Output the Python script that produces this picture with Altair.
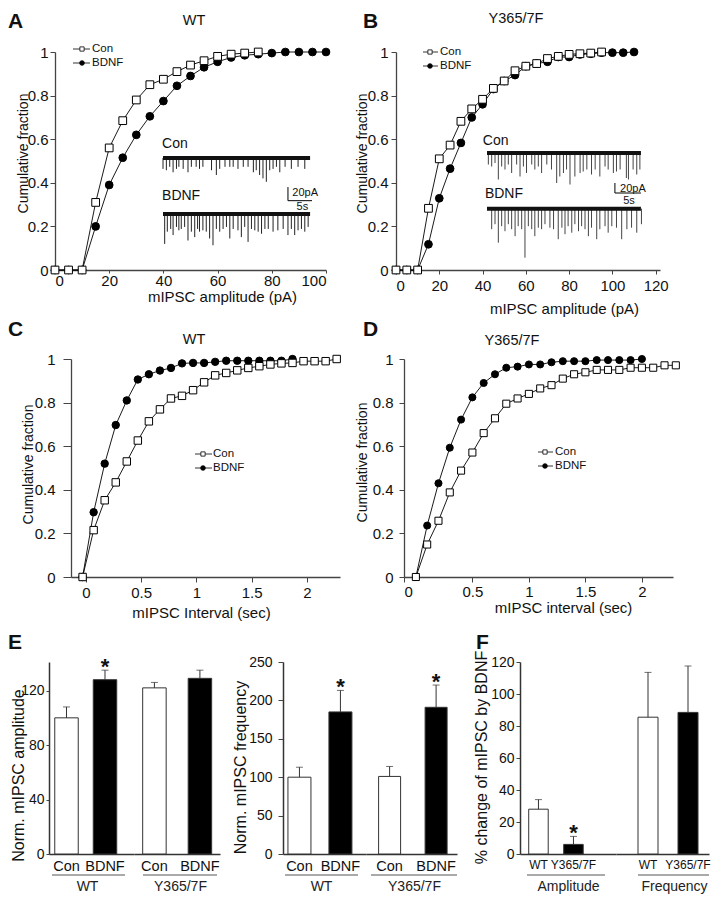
import altair as alt
import pandas as pd

FONT = "Liberation Sans"

# ---------------- cumulative data ----------------
A_CON_X = [0, 5, 10, 15, 20, 25, 30, 35, 40, 45, 50, 55, 60, 65, 70, 75]
A_CON_Y = [0, 0, 0, 0.31, 0.56, 0.685, 0.78, 0.85, 0.875, 0.91, 0.94, 0.96, 0.98, 0.99, 0.995, 1.0]
A_BDNF_X = [0, 5, 10, 15, 20, 25, 30, 35, 40, 45, 50, 55, 60, 65, 70, 75, 80, 85, 90, 95, 100]
A_BDNF_Y = [0, 0, 0, 0.2, 0.39, 0.515, 0.62, 0.705, 0.775, 0.845, 0.89, 0.93, 0.955, 0.975, 0.985, 0.99, 0.995, 1, 1, 1, 1]

B_CON_X = [0, 5, 10, 15, 20, 25, 30, 35, 40, 45, 50, 55, 60, 65, 70, 75, 80, 85, 90, 95]
B_CON_Y = [0, 0, 0, 0.283, 0.51, 0.573, 0.682, 0.739, 0.783, 0.833, 0.867, 0.914, 0.935, 0.947, 0.97, 0.98, 0.989, 0.992, 0.995, 1.0]
B_BDNF_X = [0, 5, 10, 15, 20, 25, 30, 35, 40, 45, 50, 55, 60, 65, 70, 75, 80, 85, 90, 95, 100, 105, 110]
B_BDNF_Y = [0, 0, 0, 0.118, 0.329, 0.465, 0.583, 0.70, 0.76, 0.83, 0.867, 0.894, 0.935, 0.947, 0.955, 0.977, 0.977, 0.989, 0.992, 0.997, 0.997, 0.997, 1.0]

C_CON_X = [-0.03, 0.07, 0.17, 0.27, 0.37, 0.47, 0.57, 0.67, 0.77, 0.87, 0.97, 1.07, 1.17, 1.27, 1.37, 1.47, 1.57, 1.67, 1.77, 1.87, 1.97, 2.07, 2.17, 2.27]
C_CON_Y = [0, 0.215, 0.352, 0.434, 0.53, 0.626, 0.714, 0.769, 0.819, 0.831, 0.857, 0.893, 0.925, 0.936, 0.948, 0.959, 0.967, 0.975, 0.98, 0.982, 0.99, 0.99, 0.99, 1.0]
C_BDNF_X = [-0.03, 0.07, 0.17, 0.27, 0.37, 0.47, 0.57, 0.67, 0.77, 0.87, 0.97, 1.07, 1.17, 1.27, 1.37, 1.47, 1.57, 1.67, 1.77, 1.87]
C_BDNF_Y = [0, 0.297, 0.52, 0.697, 0.81, 0.906, 0.93, 0.947, 0.959, 0.98, 0.982, 0.982, 0.987, 0.992, 0.992, 0.992, 0.992, 0.992, 0.992, 1.0]

D_CON_X = [0, 0.1, 0.2, 0.3, 0.4, 0.5, 0.6, 0.7, 0.8, 0.9, 1.0, 1.1, 1.2, 1.3, 1.4, 1.5, 1.6, 1.7, 1.8, 1.9, 2.0, 2.1, 2.2, 2.3]
D_CON_Y = [0, 0.149, 0.258, 0.388, 0.488, 0.571, 0.66, 0.728, 0.795, 0.819, 0.84, 0.865, 0.88, 0.91, 0.93, 0.939, 0.95, 0.95, 0.95, 0.96, 0.96, 0.96, 0.971, 0.971]
D_BDNF_X = [0, 0.1, 0.2, 0.3, 0.4, 0.5, 0.6, 0.7, 0.8, 0.9, 1.0, 1.1, 1.2, 1.3, 1.4, 1.5, 1.6, 1.7, 1.8, 1.9, 2.0]
D_BDNF_Y = [0, 0.236, 0.43, 0.593, 0.722, 0.824, 0.89, 0.93, 0.96, 0.965, 0.975, 0.975, 0.985, 0.99, 0.99, 0.99, 0.995, 0.995, 0.995, 0.995, 1.0]

# ---------------- example traces (event time s, event amplitude pA) ----------------
A_TR_CON_T = [0.0, 0.7, 1.4, 2.1, 2.8, 3.3, 4.2, 5.2, 5.9, 6.9, 7.6, 8.3, 10.1, 11.1, 11.8, 12.9, 13.9, 14.6, 15.6, 16.7,
              17.7, 18.8, 19.4, 20.1, 20.8, 21.5, 22.2, 22.9, 23.6, 24.3, 25.4, 26.7, 28.1, 29.5]
A_TR_CON_A = [16, 18, 13, 21, 16, 13, 16, 21, 13, 13, 16, 13, 18, 25, 16, 13, 13, 13, 16, 13,
              13, 21, 18, 25, 30, 35, 18, 16, 13, 21, 13, 16, 13, 16]
A_TR_BDNF_T = [0.35, 0.9, 1.6, 2.1, 2.8, 3.3, 3.8, 4.5, 5.2, 5.9, 6.6, 7.2, 7.6, 8.3, 9.0, 9.7, 10.4, 11.1, 11.8, 12.5,
               13.2, 13.9, 14.6, 15.6, 16.3, 17.0, 17.7, 18.4, 19.1, 19.8, 20.5, 21.2, 21.9, 22.9, 23.9, 25.0, 26.0, 26.7,
               27.4, 28.1, 28.8, 29.5, 30.2]
A_TR_BDNF_A = [44, 26, 22, 31, 19, 24, 22, 19, 39, 26, 34, 22, 26, 24, 26, 36, 46, 22, 26, 22,
               19, 36, 22, 24, 34, 19, 41, 22, 24, 26, 29, 22, 22, 26, 24, 22, 31, 22, 31, 24, 22, 26, 19]
B_TR_CON_T = [0.26, 0.9, 1.54, 2.18, 2.82, 3.46, 4.1, 4.74, 5.7, 6.35, 7.0, 7.6, 8.6, 9.2, 9.87, 10.5, 11.5, 12.4, 13.4, 14.0,
              14.7, 15.3, 15.96, 16.9, 17.9, 18.5, 19.2, 20.1, 20.8, 21.7, 22.7, 23.3, 24.3, 24.9, 25.6, 26.8, 27.2, 28.1, 28.8, 29.4]
B_TR_CON_A = [23, 27, 20, 53, 27, 33, 23, 40, 23, 47, 27, 40, 23, 33, 27, 40, 23, 33, 60, 47,
              40, 33, 63, 47, 40, 37, 33, 43, 33, 47, 27, 33, 40, 37, 33, 50, 53, 33, 43, 33]
B_TR_BDNF_T = [0.9, 1.54, 2.18, 2.82, 3.46, 4.1, 4.74, 5.4, 6.0, 6.67, 7.3, 7.95, 8.6, 9.2, 9.87, 10.5, 11.15, 12.1, 12.8, 13.7,
               14.4, 15.0, 15.6, 16.3, 16.9, 17.6, 18.2, 18.85, 19.5, 20.1, 21.1, 21.7, 22.7, 23.3, 24.0, 24.9, 25.9, 26.9,
               27.8, 28.8, 29.7]
B_TR_BDNF_A = [41, 31, 68, 35, 45, 31, 41, 55, 35, 41, 98, 35, 41, 55, 38, 41, 31, 38, 41, 61,
               38, 51, 35, 48, 31, 45, 35, 41, 55, 38, 61, 41, 35, 48, 35, 38, 61, 41, 38, 48, 31]

# ---------------- bar data (per group: Con/BDNF or WT/Y365/7F) ----------------
E_CONDS = ["Con", "BDNF"]
E_AMP_WT_MEAN, E_AMP_WT_ERR, E_AMP_WT_SIG = [100, 128], [8, 7], [False, True]
E_AMP_Y_MEAN, E_AMP_Y_ERR, E_AMP_Y_SIG = [122, 129], [4, 6], [False, False]
E_FREQ_WT_MEAN, E_FREQ_WT_ERR, E_FREQ_WT_SIG = [100, 185], [13, 28], [False, True]
E_FREQ_Y_MEAN, E_FREQ_Y_ERR, E_FREQ_Y_SIG = [101, 191], [13, 29], [False, True]
F_GENO = ["WT", "Y365/7F"]
F_AMP_MEAN, F_AMP_ERR, F_AMP_SIG = [28, 6], [6, 5], [False, True]
F_FREQ_MEAN, F_FREQ_ERR, F_FREQ_SIG = [85.5, 88.5], [28, 29], [False, False]

SERIES = ["Con", "BDNF"]
SHAPE_SCALE = alt.Scale(domain=SERIES, range=["square", "circle"])
FILL_SCALE = alt.Scale(domain=SERIES, range=["white", "black"])


def text_at(txt, x, y, **kw):
    return alt.Chart(pd.DataFrame({"txt": [txt]})).mark_text(**kw).encode(
        x=alt.value(x), y=alt.value(y), text="txt:N")


def letter_at(txt, x, y):
    return text_at(txt, x, y, align="left", baseline="top", fontSize=21, fontWeight="bold")


def extent(top, bottom):
    # invisible guide fixing the vertical extent of a panel for the layout
    return alt.Chart(pd.DataFrame({"v": [0]})).mark_rule(strokeOpacity=0, strokeWidth=1).encode(
        x=alt.value(0), y=alt.value(top), y2=alt.value(bottom))


def legend_rows(lx0, lx1, mx, tx, ys):
    out = []
    for s, yy in zip(SERIES, ys):
        d = pd.DataFrame({"series": [s]})
        out.append(alt.Chart(d).mark_rule(color="black", strokeWidth=0.8).encode(
            x=alt.value(lx0), x2=alt.value(lx1), y=alt.value(yy)))
        out.append(alt.Chart(d).mark_point(filled=True, stroke="black", strokeWidth=0.8, opacity=1,
                                           size=18 if s == "Con" else 22).encode(
            x=alt.value(mx), y=alt.value(yy),
            shape=alt.Shape("series:N", scale=SHAPE_SCALE, legend=None),
            fill=alt.Fill("series:N", scale=FILL_SCALE, legend=None)))
        out.append(alt.Chart(d).mark_text(align="left", baseline="middle", fontSize=11.5).encode(
            x=alt.value(tx), y=alt.value(yy), text="series:N"))
    return out


def trace(t, amp, tdom, xr, adom, yr, color, label, lab_t, lab_a, bar=None):
    def xs():
        return alt.Scale(domain=tdom, range=xr, nice=False, zero=False)

    def ys():
        return alt.Scale(domain=adom, range=yr, nice=False, zero=False)

    ev = pd.DataFrame({"t": t, "amp": [-a for a in amp], "zero": [0] * len(t)})
    spikes = alt.Chart(ev).mark_rule(color=color, strokeWidth=1).encode(
        x=alt.X("t:Q", scale=xs(), axis=None), y=alt.Y("amp:Q", scale=ys(), axis=None), y2="zero:Q")
    base = alt.Chart(pd.DataFrame({"t0": [0], "t1": [tdom[1] - 0.4], "a": [0]})).mark_rule(
        color="#111", strokeWidth=4).encode(
        x=alt.X("t0:Q", scale=xs(), axis=None), x2="t1:Q", y=alt.Y("a:Q", scale=ys(), axis=None))
    lab = alt.Chart(pd.DataFrame({"t": [lab_t], "a": [lab_a], "txt": [label]})).mark_text(
        align="left", baseline="middle", fontSize=14).encode(
        x=alt.X("t:Q", scale=xs(), axis=None), y=alt.Y("a:Q", scale=ys(), axis=None), text="txt:N")
    layers = [spikes, base, lab]
    if bar is not None:
        tb, a0, lt, la, st, sa = bar
        sb = pd.DataFrame({"t0": [tb, tb], "t1": [tb, tb + 5], "a0": [a0, a0], "a1": [a0 + 20, a0]})
        layers.append(alt.Chart(sb).mark_rule(color="black", strokeWidth=1).encode(
            x=alt.X("t0:Q", scale=xs(), axis=None), x2="t1:Q",
            y=alt.Y("a0:Q", scale=ys(), axis=None), y2="a1:Q"))
        layers.append(alt.Chart(pd.DataFrame({"t": [lt], "a": [la], "txt": ["20pA"]})).mark_text(
            align="left", baseline="middle", fontSize=11).encode(
            x=alt.X("t:Q", scale=xs(), axis=None), y=alt.Y("a:Q", scale=ys(), axis=None), text="txt:N"))
        layers.append(alt.Chart(pd.DataFrame({"t": [st], "a": [sa], "txt": ["5s"]})).mark_text(
            align="center", baseline="middle", fontSize=11).encode(
            x=alt.X("t:Q", scale=xs(), axis=None), y=alt.Y("a:Q", scale=ys(), axis=None), text="txt:N"))
    return layers


def cum_panel(p):
    df = pd.DataFrame({
        "x": p["bx"] + p["cx"], "y": p["by"] + p["cy"],
        "series": ["BDNF"] * len(p["bx"]) + ["Con"] * len(p["cx"])})
    xs = alt.Scale(domain=p["xdom"], nice=False, zero=False)
    ys = alt.Scale(domain=[0, 1], nice=False, zero=False)
    xkw = dict(values=p["xticks"], format=p["xfmt"], title=p["xtitle"], titleX=p["xtpos"][0],
               titleY=p["xtpos"][1], titleBaseline="middle", tickSize=p["xtick"][0],
               labelPadding=p["xtick"][1], labelFontSize=15, titleFontSize=15)
    if "xexpr" in p:
        xkw["labelExpr"] = p["xexpr"]
    xaxis = alt.Axis(**xkw)
    yaxis = alt.Axis(values=[0, 0.2, 0.4, 0.6, 0.8, 1], format=".1~f", title="Cumulative fraction",
                     titleX=p["ytpos"][0], titleY=p["ytpos"][1], titleBaseline="middle",
                     tickSize=p["ytick"][0], labelPadding=p["ytick"][1], labelFontSize=15, titleFontSize=14)
    lines = alt.Chart(df).mark_line(color="black", strokeWidth=0.9).encode(
        x=alt.X("x:Q", scale=xs, axis=xaxis), y=alt.Y("y:Q", scale=ys, axis=yaxis), detail="series:N")
    pts = alt.Chart(df).mark_point(filled=True, stroke="black", strokeWidth=1, opacity=1, size=p["msize"]).encode(
        x=alt.X("x:Q", scale=xs, axis=None), y=alt.Y("y:Q", scale=ys, axis=None),
        shape=alt.Shape("series:N", scale=SHAPE_SCALE, legend=None),
        fill=alt.Fill("series:N", scale=FILL_SCALE, legend=None))
    layers = [lines, pts] + p.get("traces", []) + legend_rows(*p["legend"])
    layers.append(letter_at(p["letter"], p["letter_pos"][0], p["letter_pos"][1]))
    layers.append(text_at(p["title"], p["title_pos"][0], p["title_pos"][1], align="center",
                          baseline="middle", fontSize=14.5))
    layers.append(extent(-p["ext"][0], p["h"] + p["ext"][1]))
    return alt.layer(*layers).resolve_scale(x="independent", y="independent").properties(
        width=p["w"], height=p["h"])


def bar_sub(p):
    c = p["conds"]
    df = pd.DataFrame({"cond": c, "mean": p["mean"], "err": p["err"], "sig": p["sig"]})
    base = alt.Chart(df).transform_calculate(top="datum.mean + datum.err")
    xs = alt.Scale(domain=c, paddingInner=p["pad"][0], paddingOuter=p["pad"][1], align=p["pad"][2])
    xaxis = alt.Axis(title=p["group"], titleX=p["gx"], titleY=32, titleBaseline="middle", titleFontSize=14,
                     titleColor="#222", labelAngle=0, ticks=False, tickSize=0, labelPadding=5,
                     labelFontSize=p["lfs"], domainWidth=1.5, domainColor="#333", labelColor="#111")
    ys = alt.Scale(domain=p["ydom"], nice=False)
    if "ytitle" in p:
        yaxis = alt.Axis(values=p["yticks"], title=p["ytitle"], titleX=p["ytpos"][0], titleY=p["ytpos"][1],
                         titleBaseline="middle", tickSize=p["ytick"][0], labelPadding=p["ytick"][1],
                         labelFontSize=14, titleFontSize=16, domainWidth=1.5, domainColor="#333")
    else:
        yaxis = None
    h = p["h"]
    X = alt.X("cond:N", scale=xs, axis=xaxis)
    bars = base.mark_bar(stroke="#333", strokeWidth=1).encode(
        x=X, y=alt.Y("mean:Q", scale=ys, axis=yaxis),
        fill=alt.Fill("cond:N", scale=alt.Scale(domain=c, range=["white", "black"]), legend=None))
    err = base.mark_rule(color="#333", strokeWidth=1).encode(
        x=X, y=alt.Y("mean:Q", scale=ys, axis=yaxis), y2="top:Q")
    cap = base.mark_tick(orient="horizontal", size=7, thickness=1, color="#333").encode(
        x=X, y=alt.Y("top:Q", scale=ys, axis=yaxis))
    star = base.transform_filter("datum.sig").mark_text(
        text="*", fontSize=22, fontWeight="bold", baseline="alphabetic", dy=4).encode(
        x=X, y=alt.Y("top:Q", scale=ys, axis=yaxis))
    ul = alt.Chart(pd.DataFrame({"v": [0]})).mark_rule(color="#555", strokeWidth=1).encode(
        x=alt.value(p["ul"][0]), x2=alt.value(p["ul"][1]), y=alt.value(h + 21))
    layers = [bars, err, cap, star, ul]
    if "letter" in p:
        layers.append(letter_at(p["letter"], p["letter_pos"][0], p["letter_pos"][1]))
    layers.append(extent(-42, h + 40))
    return alt.layer(*layers).properties(width=p["w"], height=h)


H1, H3 = 218, 192
A = cum_panel(dict(
    cx=A_CON_X, cy=A_CON_Y, bx=A_BDNF_X, by=A_BDNF_Y, xdom=[0, 100], w=271, h=H1,
    xticks=[0, 20, 40, 60, 80, 100], xfmt="d", xtitle="mIPSC amplitude (pA)", xtpos=(167, 26), xtick=(3, 0),
    ytpos=(-32, 101), ytick=(5, 2), msize=60, ext=(44, 46),
    legend=(18, 35, 27, 37, (-3, 11)), letter="A", letter_pos=(-47, -41), title="WT", title_pos=(139, -31),
    traces=(
        trace(A_TR_CON_T, A_TR_CON_A, [0, 31], [108, 257], [-50, 0], [140, 106], "#222", "Con", -0.2, 21)
        + trace(A_TR_BDNF_T, A_TR_BDNF_A, [0, 31], [108, 257], [-50, 0], [196, 162], "#222", "BDNF", -0.2, 27,
                bar=(26.0, 19.6, 26.9, 31, 29.0, 10.7))
    )))

B = cum_panel(dict(
    cx=B_CON_X, cy=B_CON_Y, bx=B_BDNF_X, by=B_BDNF_Y, xdom=[0, 122], w=264, h=H1,
    xticks=[0, 20, 40, 60, 80, 100, 120], xfmt="d", xtitle="mIPSC amplitude (pA)", xtpos=(168, 38), xtick=(4, 4),
    ytpos=(-34, 101), ytick=(5, 3), msize=60, ext=(44, 46),
    legend=(27, 42, 34, 44, (0, 14)), letter="B", letter_pos=(-33, -41), title="Y365/7F", title_pos=(120, -33),
    traces=(
        trace(B_TR_CON_T, B_TR_CON_A, [0, 30], [91, 247], [-80, 0], [141, 101], "#444", "Con", -0.8, 24)
        + trace(B_TR_BDNF_T, B_TR_BDNF_A, [0, 30], [91, 247], [-80, 0], [196.7, 156.7], "#444", "BDNF", -0.4, 29,
                bar=(24.6, 31.4, 25.6, 39.4, 27.3, 15))
    )))

C = cum_panel(dict(
    cx=C_CON_X, cy=C_CON_Y, bx=C_BDNF_X, by=C_BDNF_Y, xdom=[-0.135, 2.3], w=269, h=H1,
    xticks=[0, 0.5, 1, 1.5, 2], xfmt=".1~f", xtitle="mIPSC Interval (sec)", xtpos=(130, 35), xtick=(5, 3),
    ytpos=(-43, 105), ytick=(8, 8), msize=55, ext=(43, 43),
    legend=(124, 141, 132, 142, (95, 109)), letter="C", letter_pos=(-63, -40), title="WT", title_pos=(123, -19)))

D = cum_panel(dict(
    cx=D_CON_X, cy=D_CON_Y, bx=D_BDNF_X, by=D_BDNF_Y, xdom=[-0.105, 2.275], w=269, h=H1,
    xticks=[-0.105, 0.5, 1, 1.5, 2], xfmt=".1~f", xexpr="datum.value < 0 ? '0' : datum.label",
    xtitle="mIPSC interval (sec)", xtpos=(159, 30), xtick=(5, 2),
    ytpos=(-42, 103), ytick=(5, 6), msize=50, ext=(43, 43),
    legend=(134, 149, 141, 151, (93, 107)), letter="D", letter_pos=(-41, -40), title="Y365/7F",
    title_pos=(108, -18)))

E1a = bar_sub(dict(conds=E_CONDS, mean=E_AMP_WT_MEAN, err=E_AMP_WT_ERR, sig=E_AMP_WT_SIG, group="WT", gx=38,
                   pad=(0.39, 0.299, 0.25), ul=(3, 76), ydom=[0, 141], yticks=[0, 40, 80, 120], lfs=14.5,
                   ytitle="Norm. mIPSC amplitude", ytpos=(-31, 113), ytick=(3, 2), w=85, h=H3,
                   letter="E", letter_pos=(-41, -30)))
E1b = bar_sub(dict(conds=E_CONDS, mean=E_AMP_Y_MEAN, err=E_AMP_Y_ERR, sig=E_AMP_Y_SIG, group="Y365/7F", gx=46,
                   pad=(0.484, 0.187, 0.51), ul=(9, 83), ydom=[0, 141], lfs=14.5, w=86, h=H3))
E2a = bar_sub(dict(conds=E_CONDS, mean=E_FREQ_WT_MEAN, err=E_FREQ_WT_ERR, sig=E_FREQ_WT_SIG, group="WT", gx=38,
                   pad=(0.439, 0.232, 0.26), ul=(2, 75), ydom=[0, 250], yticks=[0, 50, 100, 150, 200, 250],
                   lfs=14.5, ytitle="Norm. mIPSC frequency", ytpos=(-43, 105), ytick=(5, 6), w=83, h=H3))
E2b = bar_sub(dict(conds=E_CONDS, mean=E_FREQ_Y_MEAN, err=E_FREQ_Y_ERR, sig=E_FREQ_Y_SIG, group="Y365/7F", gx=48,
                   pad=(0.527, 0.242, 0.56), ul=(5, 91), ydom=[0, 250], lfs=14.5, w=91, h=H3))
Fa = bar_sub(dict(conds=F_GENO, mean=F_AMP_MEAN, err=F_AMP_ERR, sig=F_AMP_SIG, group="Amplitude", gx=48,
                  pad=(0.443, 0.593, 0.21), ul=(7, 85), ydom=[0, 120], yticks=[0, 20, 40, 60, 80, 100, 120],
                  lfs=12, ytitle="% change of mIPSC by BDNF", ytpos=(-39, 95), ytick=(4, 2), w=96, h=H3,
                  letter="F", letter_pos=(-44, -30)))
Fb = bar_sub(dict(conds=F_GENO, mean=F_FREQ_MEAN, err=F_FREQ_ERR, sig=F_FREQ_SIG, group="Frequency", gx=58,
                  pad=(0.5, 0.4125, 0.667), ul=(22, 93), ydom=[0, 120], lfs=12, w=93, h=H3))


def spacer(w, h=10):
    return alt.Chart(pd.DataFrame({"v": [0]})).mark_point(opacity=0).encode(
        x=alt.value(0), y=alt.value(0)).properties(width=w, height=h)


row1 = alt.hconcat(spacer(6), A, spacer(70), B, spacing=0, bounds="flush")
row2 = alt.hconcat(spacer(22), C, spacer(64), D, spacing=0, bounds="flush")
row3 = alt.hconcat(E1a, E1b, spacer(63), E2a, E2b, spacer(63), Fa, Fb, spacing=0, bounds="flush")

chart = alt.vconcat(row1, row2, row3, spacing=0).properties(padding=0).configure_view(
    stroke=None).configure_axis(
    labelFont=FONT, titleFont=FONT, titleFontWeight="normal", labelColor="#111", titleColor="#111",
    domainColor="#444", domainWidth=1.3, tickColor="#444", tickWidth=1, grid=False
).configure_text(font=FONT, color="#111")

chart.save("out.html", embed_options={"renderer": "svg", "actions": False})
